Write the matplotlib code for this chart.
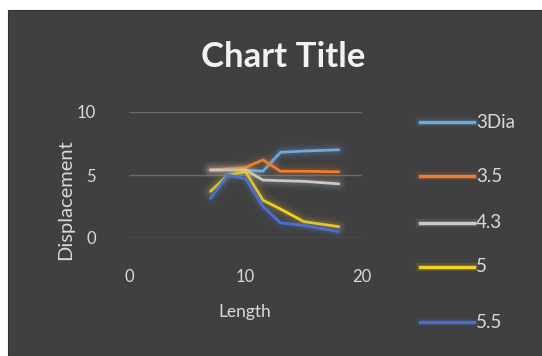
import matplotlib
matplotlib.use("Agg")
import matplotlib.pyplot as plt
from matplotlib.lines import Line2D
from matplotlib.patches import Rectangle

# ---- data ----
lengths = [7, 8.5, 10, 11.5, 13, 15, 18]
series_names = ["3Dia", "3.5", "4.3", "5", "5.5"]
s_3dia = [5.4, 5.4, 5.4, 5.3, 6.8, 6.9, 7.0]
s_3_5 = [5.4, 5.5, 5.6, 6.2, 5.3, 5.3, 5.25]
s_4_3 = [5.4, 5.4, 5.4, 4.6, 4.55, 4.5, 4.3]
s_5 = [3.7, 5.0, 5.25, 3.0, 2.3, 1.3, 0.9]
s_5_5 = [3.15, 5.0, 4.7, 2.5, 1.2, 1.0, 0.5]
x_ticks = [0, 10, 20]
y_ticks = [0, 5, 10]
title = "Chart Title"
x_label = "Length"
y_label = "Displacement"

colors = ["#6FA8DC", "#ED7D31", "#C8C8C8", "#F2D21B", "#4A6FD0"]
values = [s_3dia, s_3_5, s_4_3, s_5, s_5_5]

W, H = 542, 356
fig = plt.figure(figsize=(W / 100, H / 100), dpi=100, facecolor="white")
bg = "#404040"
fig.add_artist(Rectangle((8 / W, 0), 1 - 8 / W, 1 - 10 / H, transform=fig.transFigure,
                         facecolor=bg, edgecolor="#303030", lw=0.8, zorder=0))

font = ["Lato", "DejaVu Sans"]
txt = "#D9D9D9"

ax = fig.add_axes([129 / W, 1 - 238 / H, (362 - 129) / W, (238 - 112) / H])
ax.set_facecolor("none")
ax.set_xlim(0, 20)
ax.set_ylim(0, 10)
for s in ax.spines.values():
    s.set_visible(False)
ax.set_xticks(x_ticks)
ax.set_yticks(y_ticks)
ax.tick_params(length=0, colors=txt, labelsize=12)
ax.tick_params(axis="x", pad=22)
ax.tick_params(axis="y", pad=24)
for lab in ax.get_xticklabels() + ax.get_yticklabels():
    lab.set_family(font)
ax.grid(axis="y", color="#6A6A6A", lw=1.0)
ax.set_axisbelow(True)

for name, vals, c in zip(series_names, values, colors):
    for w, a in [(12, 0.04), (8, 0.07), (5, 0.1)]:
        ax.plot(lengths, vals, color=c, lw=w, alpha=a, solid_capstyle="round")
    ax.plot(lengths, vals, color=c, lw=2.0, solid_capstyle="round", label=name)

fig.text(283 / W, 1 - 57 / H, title, ha="center", va="center", color="#F2F2F2",
         fontsize=25, fontweight="bold", family=font)
fig.text(245 / W, 1 - 312 / H, x_label, ha="center", va="center", color=txt,
         fontsize=12.5, family=font)
fig.text(66 / W, 1 - 200 / H, y_label, ha="center", va="center", color=txt,
         fontsize=14.5, family=font, rotation=90)

leg_y = [122, 176, 223, 267, 322]
for name, c, yy in zip(series_names, colors, leg_y):
    yf = 1 - yy / H
    fig.add_artist(Line2D([420 / W, 474 / W], [yf, yf], transform=fig.transFigure,
                          color=c, lw=6, alpha=0.12))
    fig.add_artist(Line2D([420 / W, 474 / W], [yf, yf], transform=fig.transFigure,
                          color=c, lw=2.5))
    fig.text(476 / W, yf, name, ha="left", va="center", color=txt, fontsize=13.5, family=font)

fig.savefig("out.png", dpi=100, facecolor="white")
